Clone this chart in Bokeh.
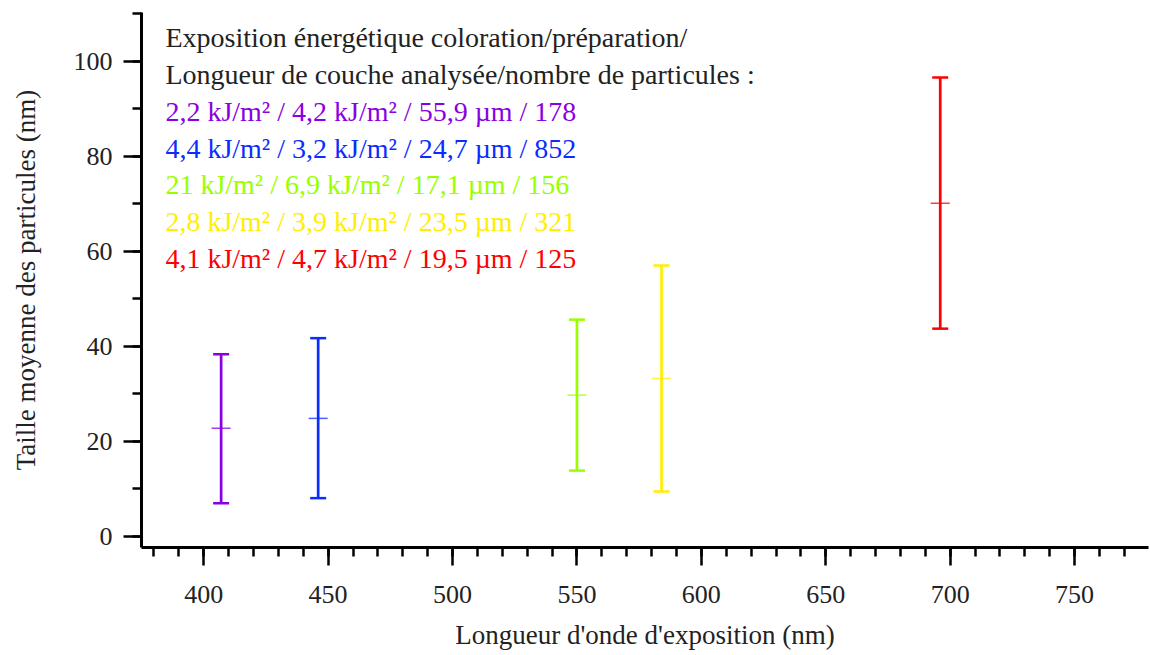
from bokeh.plotting import figure
from bokeh.models import SingleIntervalTicker, ColumnDataSource
from bokeh.core.properties import value
from bokeh.embed import file_html
from bokeh.resources import INLINE

# ---- data ----
wavelengths = [407, 446, 550, 584, 696]
means = [22.7, 24.8, 29.7, 33.2, 70.1]
lows = [6.9, 8.0, 13.8, 9.4, 43.7]
highs = [38.3, 41.7, 45.6, 57.0, 96.6]
colors = ["#8a00e0", "#0a2cff", "#99ff00", "#ffee00", "#ff0000"]
legend_title = ["Exposition énergétique coloration/préparation/",
                "Longueur de couche analysée/nombre de particules :"]
legend_lines = ["2,2 kJ/m² / 4,2 kJ/m² / 55,9 µm / 178",
                "4,4 kJ/m² / 3,2 kJ/m² / 24,7 µm / 852",
                "21 kJ/m² / 6,9 kJ/m² / 17,1 µm / 156",
                "2,8 kJ/m² / 3,9 kJ/m² / 23,5 µm / 321",
                "4,1 kJ/m² / 4,7 kJ/m² / 19,5 µm / 125"]

FONT = "Liberation Serif"

p = figure(width=1150, height=655, x_range=(375, 779.7), y_range=(-2.4, 110.3),
           output_backend="svg", toolbar_location=None,
           min_border_left=141, min_border_right=2, min_border_top=12, min_border_bottom=108)
p.outline_line_color = None
p.xgrid.visible = False
p.ygrid.visible = False
p.background_fill_color = "white"
p.border_fill_color = "white"

p.xaxis.ticker = SingleIntervalTicker(interval=50, num_minor_ticks=5)
p.yaxis.ticker = SingleIntervalTicker(interval=20, num_minor_ticks=2)
for ax in (p.xaxis, p.yaxis):
    ax.axis_line_width = 3
    ax.axis_line_color = "black"
    ax.major_tick_line_width = 2.5
    ax.minor_tick_line_width = 2.5
    ax.major_tick_line_color = "black"
    ax.minor_tick_line_color = "black"
    ax.major_tick_out = 18
    ax.major_tick_in = 0
    ax.minor_tick_out = 9
    ax.minor_tick_in = 0
    ax.major_label_text_font = FONT
    ax.major_label_text_font_size = "26px"
    ax.major_label_text_color = "#222222"
    ax.axis_label_text_font = FONT
    ax.axis_label_text_font_size = "27px"
    ax.axis_label_text_font_style = "normal"
    ax.axis_label_text_color = "#222222"

p.xaxis.axis_label = "Longueur d'onde d'exposition (nm)"
p.yaxis.axis_label = "Taille moyenne des particules (nm)"
p.xaxis.major_label_standoff = 20
p.yaxis.major_label_standoff = 11
p.xaxis.axis_label_standoff = 14
p.yaxis.axis_label_standoff = 30

src = ColumnDataSource(dict(x=wavelengths, m=means, lo=lows, hi=highs, c=colors))
p.segment(x0="x", y0="lo", x1="x", y1="hi", line_color="c", line_width=2.7, source=src)
p.scatter(x="x", y="lo", marker="dash", size=16, line_color="c", line_width=2.5, source=src)
p.scatter(x="x", y="hi", marker="dash", size=16, line_color="c", line_width=2.5, source=src)
p.scatter(x="x", y="m", marker="dash", size=19, line_color="c", line_width=1.5, line_alpha=0.75, source=src)

# legend text block
tx = 384.6
ty0 = 105.0
dy = 7.75
all_lines = legend_title + legend_lines
all_colors = ["#222222", "#222222"] + colors
tsrc = ColumnDataSource(dict(x=[tx] * len(all_lines),
                             y=[ty0 - i * dy for i in range(len(all_lines))],
                             t=all_lines, c=all_colors))
p.text(x="x", y="y", text="t", text_color="c", source=tsrc,
       text_font=value(FONT), text_font_size="28px", text_baseline="middle", text_align="left")

open("out.html", "w").write(file_html(p, INLINE))
